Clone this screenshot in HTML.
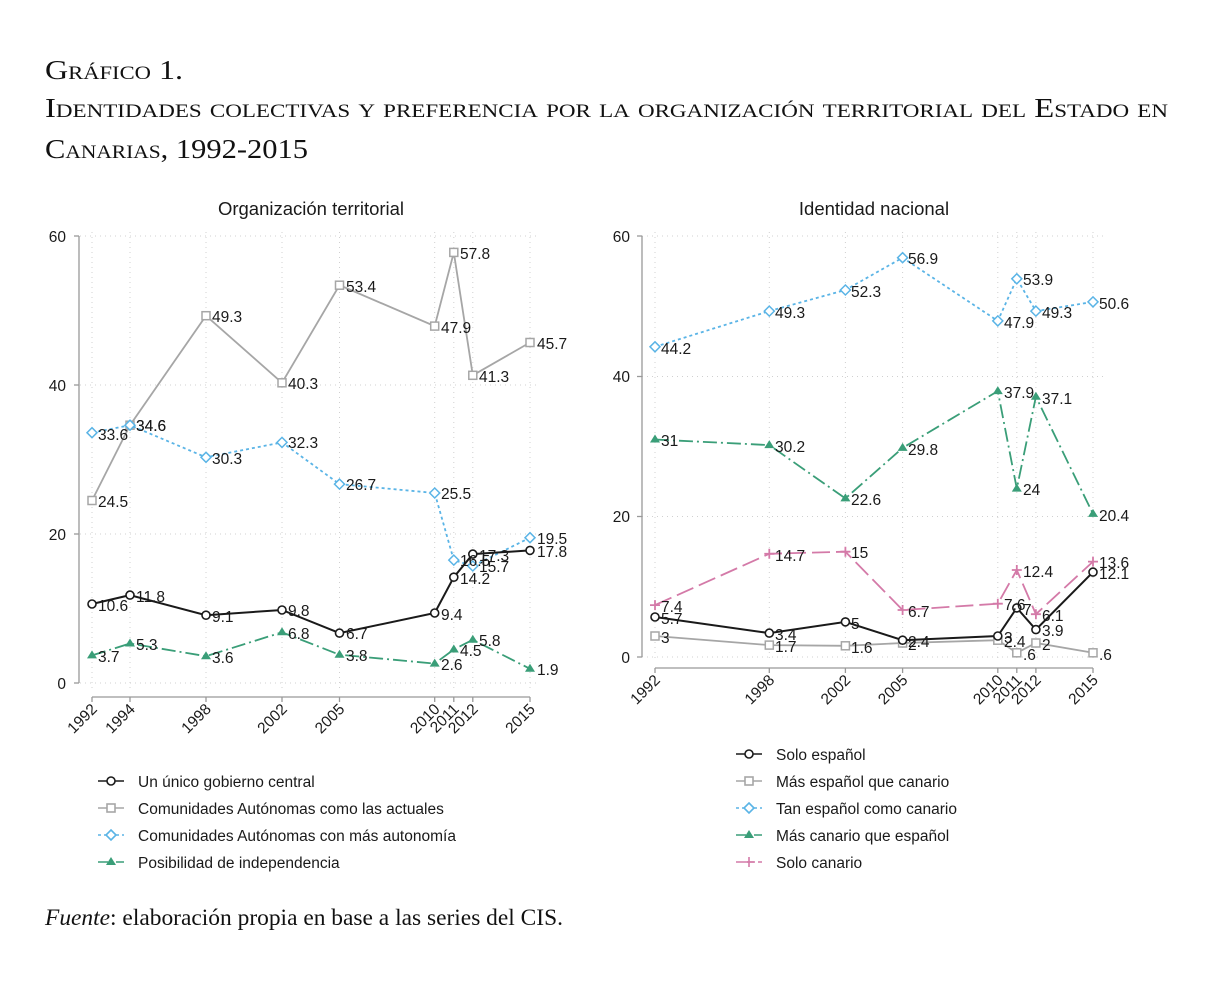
<!DOCTYPE html>
<html><head><meta charset="utf-8"><style>
html,body{margin:0;padding:0;background:#fff;}
svg{display:block;}
.t{font-family:"Liberation Sans",sans-serif;font-size:15.5px;fill:#1a1a1a;}
.h{font-family:"Liberation Serif",serif;font-variant:small-caps;font-size:27px;fill:#111;}
.g{stroke:#d0d0d0;stroke-width:1;stroke-dasharray:1,4;}
</style></head><body>
<svg width="1214" height="985" viewBox="0 0 1214 985" xmlns="http://www.w3.org/2000/svg">
<rect width="1214" height="985" fill="#fff"/>
<text class="h" x="45" y="79" textLength="138" lengthAdjust="spacingAndGlyphs">Gráfico 1.</text>
<text class="h" x="45" y="117" textLength="1123" lengthAdjust="spacingAndGlyphs">Identidades colectivas y preferencia por la organización territorial del Estado en</text>
<text class="h" x="45" y="158" textLength="263" lengthAdjust="spacingAndGlyphs">Canarias, 1992-2015</text>

<!-- LEFT CHART -->
<text class="t" x="311" y="215" text-anchor="middle" style="font-size:18.5px">Organización territorial</text>
<g>
<line class="g" x1="80" x2="540" y1="236" y2="236"/><line class="g" x1="80" x2="540" y1="385" y2="385"/><line class="g" x1="80" x2="540" y1="534" y2="534"/><line class="g" x1="80" x2="540" y1="683" y2="683"/>
<line class="g" x1="92" x2="92" y1="232" y2="690"/><line class="g" x1="130" x2="130" y1="232" y2="690"/><line class="g" x1="206" x2="206" y1="232" y2="690"/><line class="g" x1="282" x2="282" y1="232" y2="690"/><line class="g" x1="339.5" x2="339.5" y1="232" y2="690"/><line class="g" x1="434.7" x2="434.7" y1="232" y2="690"/><line class="g" x1="453.8" x2="453.8" y1="232" y2="690"/><line class="g" x1="472.8" x2="472.8" y1="232" y2="690"/><line class="g" x1="530" x2="530" y1="232" y2="690"/>
</g>
<g stroke="#999" stroke-width="1.3" fill="none">
<line x1="79" y1="236" x2="79" y2="683"/>
<line x1="74" y1="236" x2="79" y2="236"/><line x1="74" y1="385" x2="79" y2="385"/><line x1="74" y1="534" x2="79" y2="534"/><line x1="74" y1="683" x2="79" y2="683"/>
<line x1="92" y1="697" x2="530" y2="697"/>
<line x1="92" y1="697" x2="92" y2="702"/><line x1="130" y1="697" x2="130" y2="702"/><line x1="206" y1="697" x2="206" y2="702"/><line x1="282" y1="697" x2="282" y2="702"/><line x1="339.5" y1="697" x2="339.5" y2="702"/><line x1="434.7" y1="697" x2="434.7" y2="702"/><line x1="453.8" y1="697" x2="453.8" y2="702"/><line x1="472.8" y1="697" x2="472.8" y2="702"/><line x1="530" y1="697" x2="530" y2="702"/>
</g>
<g class="t" text-anchor="end">
<text x="66" y="242">60</text><text x="66" y="391">40</text><text x="66" y="540">20</text><text x="66" y="689">0</text>
</g>
<g class="t" text-anchor="end">
<text transform="translate(98,710) rotate(-45)">1992</text>
<text transform="translate(136,710) rotate(-45)">1994</text>
<text transform="translate(212,710) rotate(-45)">1998</text>
<text transform="translate(288,710) rotate(-45)">2002</text>
<text transform="translate(345.5,710) rotate(-45)">2005</text>
<text transform="translate(440.7,710) rotate(-45)">2010</text>
<text transform="translate(459.8,710) rotate(-45)">2011</text>
<text transform="translate(478.8,710) rotate(-45)">2012</text>
<text transform="translate(536,710) rotate(-45)">2015</text>
</g>
<polyline fill="none" stroke="#a6a6a6" stroke-width="1.8" points="92,500.5 130,425.2 206,315.7 282,382.8 339.5,285.2 434.7,326.1 453.8,252.4 472.8,375.3 530,342.5"/>
<g fill="#fff" stroke="#a6a6a6" stroke-width="1.5">
<rect x="88" y="496.5" width="8" height="8"/><rect x="126" y="421.2" width="8" height="8"/><rect x="202" y="311.7" width="8" height="8"/><rect x="278" y="378.8" width="8" height="8"/><rect x="335.5" y="281.2" width="8" height="8"/><rect x="430.7" y="322.1" width="8" height="8"/><rect x="449.8" y="248.4" width="8" height="8"/><rect x="468.8" y="371.3" width="8" height="8"/><rect x="526" y="338.5" width="8" height="8"/>
</g>
<polyline fill="none" stroke="#5ab4e6" stroke-width="1.8" stroke-dasharray="3,3" points="92,432.7 130,425.2 206,457.3 282,442.4 339.5,484.1 434.7,493 453.8,560.1 472.8,566 530,537.7"/>
<g fill="#fff" stroke="#5ab4e6" stroke-width="1.5">
<path d="M92,427.7l5,5l-5,5l-5,-5z M130,420.2l5,5l-5,5l-5,-5z M206,452.3l5,5l-5,5l-5,-5z M282,437.4l5,5l-5,5l-5,-5z M339.5,479.1l5,5l-5,5l-5,-5z M434.7,488l5,5l-5,5l-5,-5z M453.8,555.1l5,5l-5,5l-5,-5z M472.8,561l5,5l-5,5l-5,-5z M530,532.7l5,5l-5,5l-5,-5z"/>
</g>
<polyline fill="none" stroke="#1a1a1a" stroke-width="2" points="92,604 130,595.1 206,615.2 282,610 339.5,633.1 434.7,613 453.8,577.2 472.8,554.1 530,550.4"/>
<g fill="#fff" stroke="#1a1a1a" stroke-width="1.6">
<circle cx="92" cy="604" r="4"/><circle cx="130" cy="595.1" r="4"/><circle cx="206" cy="615.2" r="4"/><circle cx="282" cy="610" r="4"/><circle cx="339.5" cy="633.1" r="4"/><circle cx="434.7" cy="613" r="4"/><circle cx="453.8" cy="577.2" r="4"/><circle cx="472.8" cy="554.1" r="4"/><circle cx="530" cy="550.4" r="4"/>
</g>
<polyline fill="none" stroke="#3a9e78" stroke-width="1.8" stroke-dasharray="14,4,2,4" points="92,655.4 130,643.5 206,656.2 282,632.3 339.5,654.7 434.7,663.6 453.8,649.5 472.8,639.8 530,668.8"/>
<g fill="#3a9e78">
<path d="M92,650.4l5,8h-10z M130,638.5l5,8h-10z M206,651.2l5,8h-10z M282,627.3l5,8h-10z M339.5,649.7l5,8h-10z M434.7,658.6l5,8h-10z M453.8,644.5l5,8h-10z M472.8,634.8l5,8h-10z M530,663.8l5,8h-10z"/>
</g>
<g class="t">
<text x="98" y="507">24.5</text><text x="136" y="431">34.6</text><text x="212" y="322">49.3</text><text x="288" y="389">40.3</text><text x="346" y="292">53.4</text><text x="441" y="333">47.9</text><text x="460" y="259">57.8</text><text x="479" y="382">41.3</text><text x="537" y="349">45.7</text>
<text x="98" y="440">33.6</text><text x="136" y="431">34.6</text><text x="212" y="464">30.3</text><text x="288" y="448">32.3</text><text x="346" y="490">26.7</text><text x="441" y="499">25.5</text><text x="460" y="566">16.5</text><text x="479" y="572">15.7</text><text x="537" y="544">19.5</text>
<text x="98" y="611">10.6</text><text x="136" y="602">11.8</text><text x="212" y="622">9.1</text><text x="288" y="616">9.8</text><text x="346" y="639">6.7</text><text x="441" y="620">9.4</text><text x="460" y="584">14.2</text><text x="479" y="561">17.3</text><text x="537" y="557">17.8</text>
<text x="98" y="662">3.7</text><text x="136" y="650">5.3</text><text x="212" y="663">3.6</text><text x="288" y="639">6.8</text><text x="346" y="661">3.8</text><text x="441" y="670">2.6</text><text x="460" y="656">4.5</text><text x="479" y="646">5.8</text><text x="537" y="675">1.9</text>
</g>
<g stroke-width="1.6" fill="#fff">
<line x1="98" x2="124" y1="781" y2="781" stroke="#1a1a1a"/><circle cx="111" cy="781" r="4" stroke="#1a1a1a"/>
<line x1="98" x2="124" y1="808" y2="808" stroke="#a6a6a6"/><rect x="107" y="804" width="8" height="8" stroke="#a6a6a6"/>
<line x1="98" x2="124" y1="835" y2="835" stroke="#5ab4e6" stroke-dasharray="3,3"/><path d="M111,830l5,5l-5,5l-5,-5z" stroke="#5ab4e6"/>
<line x1="98" x2="124" y1="862" y2="862" stroke="#3a9e78" stroke-dasharray="10,3,2,3"/><path d="M111,857l5,8h-10z" fill="#3a9e78" stroke="none"/>
</g>
<g class="t">
<text x="138" y="787">Un único gobierno central</text>
<text x="138" y="814">Comunidades Autónomas como las actuales</text>
<text x="138" y="841">Comunidades Autónomas con más autonomía</text>
<text x="138" y="868">Posibilidad de independencia</text>
</g>

<!-- RIGHT CHART -->
<text class="t" x="874" y="215" text-anchor="middle" style="font-size:18.5px">Identidad nacional</text>
<g>
<line class="g" x1="642" x2="1103" y1="236" y2="236"/><line class="g" x1="642" x2="1103" y1="376.5" y2="376.5"/><line class="g" x1="642" x2="1103" y1="516.5" y2="516.5"/><line class="g" x1="642" x2="1103" y1="657" y2="657"/>
<line class="g" x1="655" x2="655" y1="232" y2="662"/><line class="g" x1="769.3" x2="769.3" y1="232" y2="662"/><line class="g" x1="845.4" x2="845.4" y1="232" y2="662"/><line class="g" x1="902.6" x2="902.6" y1="232" y2="662"/><line class="g" x1="997.8" x2="997.8" y1="232" y2="662"/><line class="g" x1="1016.8" x2="1016.8" y1="232" y2="662"/><line class="g" x1="1035.9" x2="1035.9" y1="232" y2="662"/><line class="g" x1="1093" x2="1093" y1="232" y2="662"/>
</g>
<g stroke="#999" stroke-width="1.3" fill="none">
<line x1="642" y1="236" x2="642" y2="657"/>
<line x1="637" y1="236" x2="642" y2="236"/><line x1="637" y1="376.5" x2="642" y2="376.5"/><line x1="637" y1="516.5" x2="642" y2="516.5"/><line x1="637" y1="657" x2="642" y2="657"/>
<line x1="655" y1="668" x2="1093" y2="668"/>
<line x1="655" y1="668" x2="655" y2="673"/><line x1="769.3" y1="668" x2="769.3" y2="673"/><line x1="845.4" y1="668" x2="845.4" y2="673"/><line x1="902.6" y1="668" x2="902.6" y2="673"/><line x1="997.8" y1="668" x2="997.8" y2="673"/><line x1="1016.8" y1="668" x2="1016.8" y2="673"/><line x1="1035.9" y1="668" x2="1035.9" y2="673"/><line x1="1093" y1="668" x2="1093" y2="673"/>
</g>
<g class="t" text-anchor="end">
<text x="630" y="242">60</text><text x="630" y="382">40</text><text x="630" y="522">20</text><text x="630" y="663">0</text>
</g>
<g class="t" text-anchor="end">
<text transform="translate(661,681) rotate(-45)">1992</text>
<text transform="translate(775.3,681) rotate(-45)">1998</text>
<text transform="translate(851.4,681) rotate(-45)">2002</text>
<text transform="translate(908.6,681) rotate(-45)">2005</text>
<text transform="translate(1003.8,681) rotate(-45)">2010</text>
<text transform="translate(1022.8,681) rotate(-45)">2011</text>
<text transform="translate(1041.9,681) rotate(-45)">2012</text>
<text transform="translate(1099,681) rotate(-45)">2015</text>
</g>
<polyline fill="none" stroke="#a6a6a6" stroke-width="1.8" points="655,636 769.3,645.1 845.4,645.8 902.6,643 997.8,640.2 1016.8,652.8 1035.9,643 1093,652.8"/>
<g fill="#fff" stroke="#a6a6a6" stroke-width="1.5">
<rect x="651" y="632" width="8" height="8"/><rect x="765.3" y="641.1" width="8" height="8"/><rect x="841.4" y="641.8" width="8" height="8"/><rect x="898.6" y="639" width="8" height="8"/><rect x="993.8" y="636.2" width="8" height="8"/><rect x="1012.8" y="648.8" width="8" height="8"/><rect x="1031.9" y="639" width="8" height="8"/><rect x="1089" y="648.8" width="8" height="8"/>
</g>
<polyline fill="none" stroke="#5ab4e6" stroke-width="1.8" stroke-dasharray="3,3" points="655,346.8 769.3,311.1 845.4,290 902.6,257.7 997.8,320.9 1016.8,278.8 1035.9,311.1 1093,301.9"/>
<g fill="#fff" stroke="#5ab4e6" stroke-width="1.5">
<path d="M655,341.8l5,5l-5,5l-5,-5z M769.3,306.1l5,5l-5,5l-5,-5z M845.4,285l5,5l-5,5l-5,-5z M902.6,252.7l5,5l-5,5l-5,-5z M997.8,315.9l5,5l-5,5l-5,-5z M1016.8,273.8l5,5l-5,5l-5,-5z M1035.9,306.1l5,5l-5,5l-5,-5z M1093,296.9l5,5l-5,5l-5,-5z"/>
</g>
<polyline fill="none" stroke="#3a9e78" stroke-width="1.8" stroke-dasharray="14,4,2,4" points="655,439.5 769.3,445.1 845.4,498.4 902.6,447.9 997.8,391.1 1016.8,488.6 1035.9,396.7 1093,513.9"/>
<g fill="#3a9e78">
<path d="M655,434.5l5,8h-10z M769.3,440.1l5,8h-10z M845.4,493.4l5,8h-10z M902.6,442.9l5,8h-10z M997.8,386.1l5,8h-10z M1016.8,483.6l5,8h-10z M1035.9,391.7l5,8h-10z M1093,508.9l5,8h-10z"/>
</g>
<polyline fill="none" stroke="#d47aa8" stroke-width="1.8" stroke-dasharray="18,6" points="655,605.1 769.3,553.8 845.4,551.7 902.6,610 997.8,603.7 1016.8,570 1035.9,614.2 1093,561.6"/>
<g stroke="#d47aa8" stroke-width="1.8">
<path d="M650,605.1h10M655,600.1v10 M764.3,553.8h10M769.3,548.8v10 M840.4,551.7h10M845.4,546.7v10 M897.6,610h10M902.6,605v10 M992.8,603.7h10M997.8,598.7v10 M1011.8,570h10M1016.8,565v10 M1030.9,614.2h10M1035.9,609.2v10 M1088,561.6h10M1093,556.6v10"/>
</g>
<polyline fill="none" stroke="#1a1a1a" stroke-width="2" points="655,617 769.3,633.1 845.4,621.9 902.6,640.2 997.8,636 1016.8,607.9 1035.9,629.6 1093,572.1"/>
<g fill="#fff" stroke="#1a1a1a" stroke-width="1.6">
<circle cx="655" cy="617" r="4"/><circle cx="769.3" cy="633.1" r="4"/><circle cx="845.4" cy="621.9" r="4"/><circle cx="902.6" cy="640.2" r="4"/><circle cx="997.8" cy="636" r="4"/><circle cx="1016.8" cy="607.9" r="4"/><circle cx="1035.9" cy="629.6" r="4"/><circle cx="1093" cy="572.1" r="4"/>
</g>
<g class="t">
<text x="661" y="643">3</text><text x="775" y="652">1.7</text><text x="851" y="653">1.6</text><text x="908" y="650">2</text><text x="1004" y="647">2.4</text><text x="1023" y="660">.6</text><text x="1042" y="650">2</text><text x="1099" y="660">.6</text>
<text x="661" y="354">44.2</text><text x="775" y="318">49.3</text><text x="851" y="297">52.3</text><text x="908" y="264">56.9</text><text x="1004" y="328">47.9</text><text x="1023" y="285">53.9</text><text x="1042" y="318">49.3</text><text x="1099" y="309">50.6</text>
<text x="661" y="446">31</text><text x="775" y="452">30.2</text><text x="851" y="505">22.6</text><text x="908" y="455">29.8</text><text x="1004" y="398">37.9</text><text x="1023" y="495">24</text><text x="1042" y="404">37.1</text><text x="1099" y="521">20.4</text>
<text x="661" y="612">7.4</text><text x="775" y="561">14.7</text><text x="851" y="558">15</text><text x="908" y="617">6.7</text><text x="1004" y="610">7.6</text><text x="1023" y="577">12.4</text><text x="1042" y="621">6.1</text><text x="1099" y="568">13.6</text>
<text x="661" y="624">5.7</text><text x="775" y="640">3.4</text><text x="851" y="629">5</text><text x="908" y="647">2.4</text><text x="1004" y="643">3</text><text x="1023" y="615">7</text><text x="1042" y="636">3.9</text><text x="1099" y="579">12.1</text>
</g>
<g stroke-width="1.6" fill="#fff">
<line x1="736" x2="762" y1="754" y2="754" stroke="#1a1a1a"/><circle cx="749" cy="754" r="4" stroke="#1a1a1a"/>
<line x1="736" x2="762" y1="781" y2="781" stroke="#a6a6a6"/><rect x="745" y="777" width="8" height="8" stroke="#a6a6a6"/>
<line x1="736" x2="762" y1="808" y2="808" stroke="#5ab4e6" stroke-dasharray="3,3"/><path d="M749,803l5,5l-5,5l-5,-5z" stroke="#5ab4e6"/>
<line x1="736" x2="762" y1="835" y2="835" stroke="#3a9e78" stroke-dasharray="10,3,2,3"/><path d="M749,830l5,8h-10z" fill="#3a9e78" stroke="none"/>
<line x1="736" x2="762" y1="862" y2="862" stroke="#d47aa8" stroke-dasharray="8,3"/><path d="M744,862h10M749,857v10" stroke="#d47aa8"/>
</g>
<g class="t">
<text x="776" y="760">Solo español</text>
<text x="776" y="787">Más español que canario</text>
<text x="776" y="814">Tan español como canario</text>
<text x="776" y="841">Más canario que español</text>
<text x="776" y="868">Solo canario</text>
</g>

<text x="45" y="925" textLength="518" lengthAdjust="spacingAndGlyphs" style="font-family:'Liberation Serif',serif;font-size:23px;fill:#111"><tspan font-style="italic">Fuente</tspan>: elaboración propia en base a las series del CIS.</text>
</svg>
</body></html>
